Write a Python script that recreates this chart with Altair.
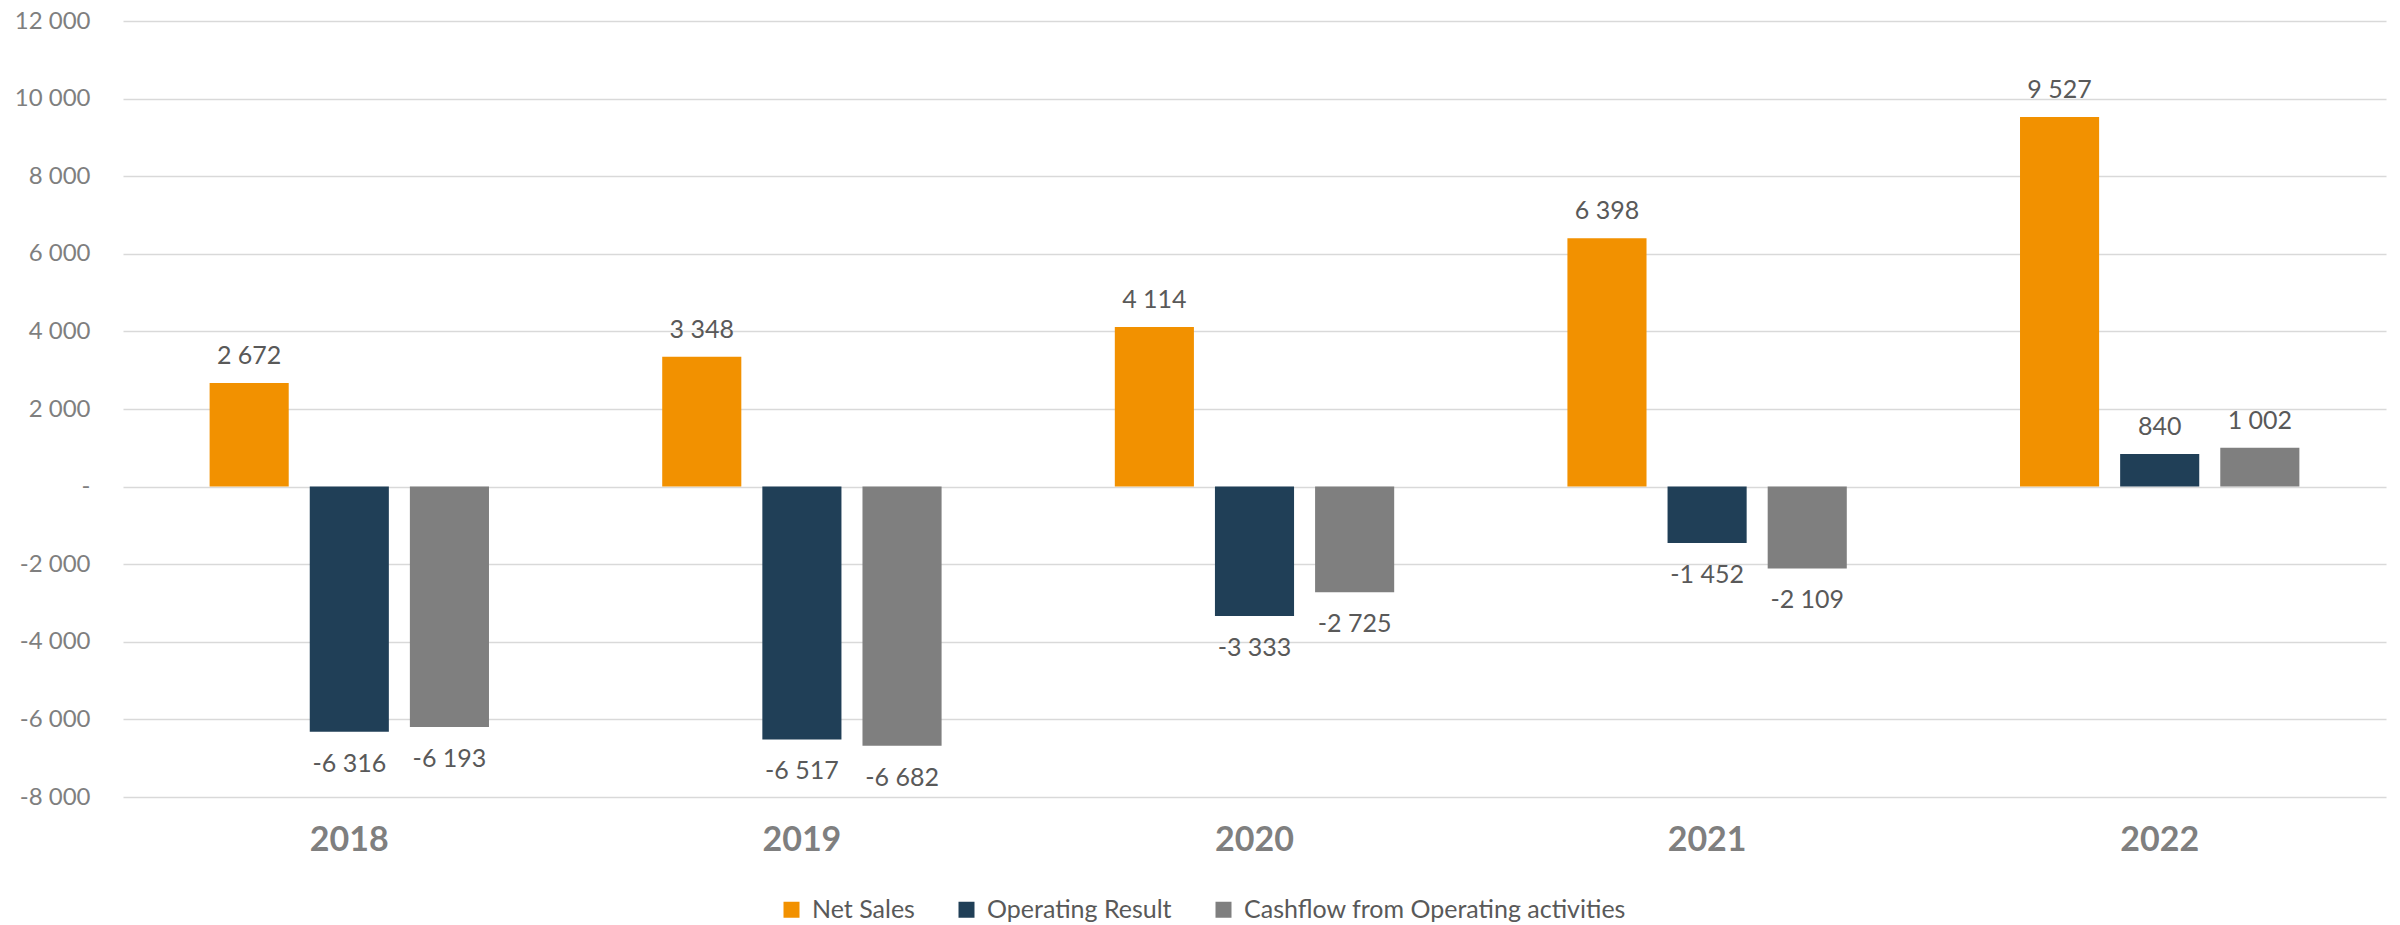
import altair as alt
import pandas as pd

years = ["2018", "2019", "2020", "2021", "2022"]
series = ["Net Sales", "Operating Result", "Cashflow from Operating activities"]
net_sales = [2672, 3348, 4114, 6398, 9527]
op_result = [-6316, -6517, -3333, -1452, 840]
cashflow = [-6193, -6682, -2725, -2109, 1002]
colors = ["#F29100", "#203F57", "#7F7F7F"]
y_ticks = [-8000, -6000, -4000, -2000, 0, 2000, 4000, 6000, 8000, 10000, 12000]

rows = []
for i, y in enumerate(years):
    for s, vals in zip(series, [net_sales, op_result, cashflow]):
        rows.append({"Year": y, "Series": s, "Value": vals[i]})
df = pd.DataFrame(rows)

FONT = "Lato"

base = alt.Chart(df).transform_calculate(
    Label="(datum.Value < 0 ? '-' : '') + replace(format(abs(datum.Value), ','), ',', ' ')"
).encode(
    x=alt.X(
        "Year:N",
        sort=years,
        scale=alt.Scale(paddingInner=0, paddingOuter=0),
        axis=alt.Axis(
            title=None, labelAngle=0, labelFontSize=34, labelFontWeight="bold",
            labelColor="#7F7F7F", labelFont=FONT, ticks=False, domain=False,
            labelPadding=26, grid=False,
        ),
    ),
    xOffset=alt.XOffset(
        "Series:N", sort=series,
        scale=alt.Scale(domain=series, paddingInner=0.21, paddingOuter=0.865),
    ),
    y=alt.Y(
        "Value:Q",
        scale=alt.Scale(domain=[-8000, 12000], nice=False, zero=False),
        axis=alt.Axis(
            title=None, values=y_ticks,
            labelExpr="datum.value == 0 ? '-' : (datum.value < 0 ? '-' : '') + replace(format(abs(datum.value), ','), ',', ' ')",
            grid=True, gridColor="#D9D9D9", gridWidth=1.5, ticks=False, domain=False,
            labelPadding=33, labelFontSize=24, labelColor="#7F7F7F", labelFont=FONT,
        ),
    ),
)

bars = base.mark_bar().encode(
    color=alt.Color(
        "Series:N", sort=series,
        scale=alt.Scale(domain=series, range=colors),
        legend=alt.Legend(
            title=None, orient="none", direction="horizontal", legendX=656, legendY=876,
            symbolType="square", symbolSize=256, symbolStrokeWidth=0,
            labelFontSize=25, labelFont=FONT, labelColor="#595959",
            labelOffset=8, columnPadding=39, labelLimit=600,
        ),
    )
)

pos_labels = base.transform_filter(alt.datum.Value >= 0).mark_text(
    baseline="alphabetic", dy=-19, fontSize=25, color="#595959", font=FONT
).encode(text="Label:N")

neg_labels = base.transform_filter(alt.datum.Value < 0).mark_text(
    baseline="top", dy=20, fontSize=25, color="#595959", font=FONT
).encode(text="Label:N")

chart = alt.layer(bars, pos_labels, neg_labels).properties(
    width=2263, height=776,
    padding={"left": 123, "top": 21, "right": 14, "bottom": 128},
    autosize=alt.AutoSizeParams(type="none"),
    background="white",
).configure_view(stroke=None)

chart.save("out.html", embed_options={"renderer": "svg", "actions": False})
